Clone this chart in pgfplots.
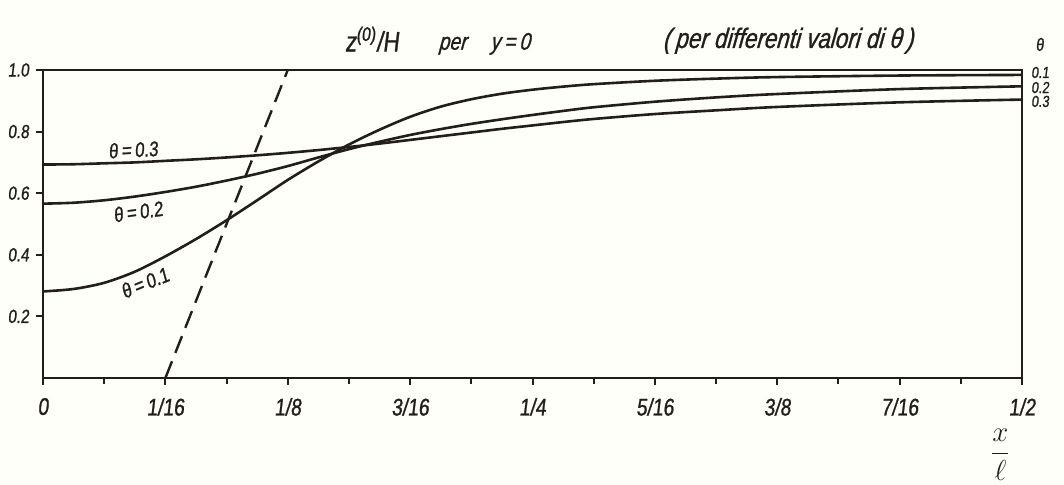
\documentclass[border=0pt]{standalone}
\usepackage{fontspec}
\setmainfont{Liberation Sans}
\newfontfamily\hand[FakeSlant=0.12,FakeStretch=0.8,FakeBold=1]{Liberation Sans}
\usepackage{pgfplots}
\pgfplotsset{compat=1.18}
\definecolor{ink}{HTML}{221E19}
\definecolor{paper}{HTML}{FFFFF9}
\begin{document}
\begin{tikzpicture}
\useasboundingbox (-21.5pt,-53.5pt) rectangle (510.5pt,189pt);
\fill[paper] (-21.5pt,-53.5pt) rectangle (510.5pt,189pt);
\begin{axis}[
  scale only axis, width=489.5pt, height=154pt,
  at={(0,0)}, anchor=south west,
  xmin=0, xmax=0.5, ymin=0, ymax=1,
  axis line style={ink, line width=1.3pt},
  xtick={0,0.0625,0.125,0.1875,0.25,0.3125,0.375,0.4375,0.5},
  xticklabels={0,1/16,1/8,3/16,1/4,5/16,3/8,7/16,1/2},
  minor xtick={0.03125,0.09375,0.15625,0.21875,0.28125,0.34375,0.40625,0.46875},
  ytick={0.2,0.4,0.6,0.8,1.0},
  yticklabels={0.2,0.4,0.6,0.8,1.0},
  tick align=outside, xtick pos=bottom, ytick pos=left,
  major tick length=3.5pt, minor tick length=3pt,
  tick style={ink, line width=1pt},
  xticklabel style={font=\hand\fontsize{12}{14}\selectfont, text=ink, yshift=-3pt},
  yticklabel style={font=\hand\fontsize{9.5}{11}\selectfont, text=ink},
  clip=false,
]
% theta = 0.1
\addplot[ink, line width=1.3pt, smooth] table {
x y
0 0.281
0.015625 0.289
0.03125 0.309
0.046875 0.345
0.0625 0.395
0.078125 0.451
0.09375 0.512
0.109375 0.577
0.125 0.643
0.140625 0.703
0.15625 0.758
0.171875 0.806
0.1875 0.848
0.203125 0.881
0.21875 0.905
0.234375 0.923
0.25 0.936
0.265625 0.946
0.28125 0.954
0.3125 0.965
0.34375 0.972
0.375 0.977
0.4375 0.982
0.5 0.984
};
% theta = 0.2
\addplot[ink, line width=1.3pt, smooth] table {
x y
0 0.566
0.015625 0.569
0.03125 0.577
0.046875 0.589
0.0625 0.604
0.078125 0.621
0.09375 0.641
0.109375 0.663
0.125 0.688
0.140625 0.716
0.15625 0.743
0.171875 0.767
0.1875 0.789
0.203125 0.808
0.21875 0.825
0.234375 0.840
0.25 0.854
0.265625 0.867
0.28125 0.879
0.3125 0.897
0.34375 0.911
0.375 0.922
0.4375 0.938
0.5 0.947
};
% theta = 0.3
\addplot[ink, line width=1.3pt, smooth] table {
x y
0 0.693
0.015625 0.694
0.03125 0.697
0.046875 0.700
0.0625 0.705
0.078125 0.710
0.09375 0.716
0.109375 0.723
0.125 0.731
0.140625 0.740
0.15625 0.750
0.171875 0.761
0.1875 0.773
0.203125 0.785
0.21875 0.797
0.234375 0.809
0.25 0.820
0.265625 0.831
0.28125 0.841
0.3125 0.857
0.34375 0.869
0.375 0.880
0.4375 0.895
0.5 0.904
};
\addplot[ink, line width=1.2pt, dash pattern=on 9pt off 4.5pt] coordinates {(0.0625,0) (0.125,1)};
\node[font=\hand\fontsize{10.5}{12}\selectfont, text=ink, rotate=3] at (axis cs:0.046,0.741) {θ\,=\,0.3};
\node[font=\hand\fontsize{10.5}{12}\selectfont, text=ink, rotate=8] at (axis cs:0.0485,0.54) {θ\,=\,0.2};
\node[font=\hand\fontsize{10.5}{12}\selectfont, text=ink, rotate=22] at (axis cs:0.052,0.309) {θ\,=\,0.1};
\node[font=\hand\fontsize{9}{10}\selectfont, text=ink] at (axis cs:0.509,1.083) {θ};
\node[font=\hand\fontsize{8}{9}\selectfont, text=ink, anchor=west, inner sep=1pt] at (axis cs:0.5035,0.992) {0.1};
\node[font=\hand\fontsize{8}{9}\selectfont, text=ink, anchor=west, inner sep=1pt] at (axis cs:0.5035,0.943) {0.2};
\node[font=\hand\fontsize{8}{9}\selectfont, text=ink, anchor=west, inner sep=1pt] at (axis cs:0.5035,0.898) {0.3};
\node[font=\hand\fontsize{14}{16}\selectfont, text=ink] at (axis cs:0.168,1.10) {z\textsuperscript{(0)}/H};
\node[font=\hand\itshape\fontsize{12}{14}\selectfont, text=ink] at (axis cs:0.2257,1.085) {per\quad y\,=\,0};
\node[font=\hand\itshape\fontsize{14}{16}\selectfont, text=ink] at (axis cs:0.381,1.095) {(\,per differenti valori di θ\,)};
\node[text=ink, font=\fontsize{14}{16}\selectfont] at (axis cs:0.489,-0.25) {$\displaystyle\frac{x}{\ell}$};
\end{axis}
\end{tikzpicture}
\end{document}
